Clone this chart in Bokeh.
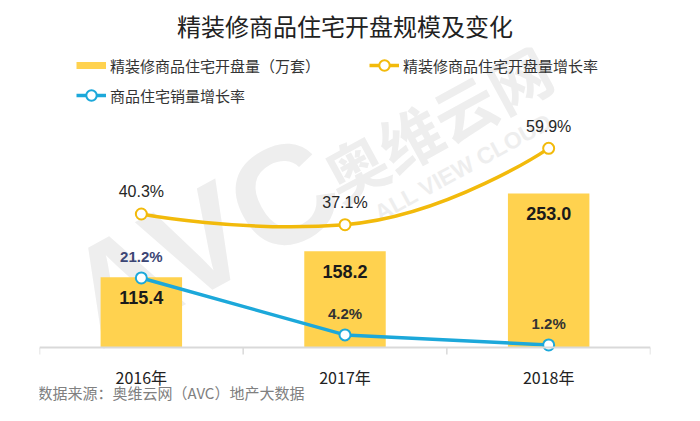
from bokeh.plotting import figure
from bokeh.models import ColumnDataSource, Range1d, Legend, LegendItem, Span, Label
from bokeh.core.properties import value
from bokeh.embed import file_html
from bokeh.resources import INLINE

# ---------------- data ----------------
categories = ["2016年", "2017年", "2018年"]
open_volume = [115.4, 158.2, 253.0]      # 精装修商品住宅开盘量（万套）
open_growth = [40.3, 37.1, 59.9]         # 精装修商品住宅开盘量增长率 (%)
sales_growth = [21.2, 4.2, 1.2]          # 商品住宅销量增长率 (%)

title_text = "精装修商品住宅开盘规模及变化"
legend_labels = ["精装修商品住宅开盘量（万套）", "精装修商品住宅开盘量增长率", "商品住宅销量增长率"]
source_text = "数据来源：奥维云网（AVC）地产大数据"

# ---------------- styles ----------------
BAR = "#FFD24F"
GOLD = "#F2BA0B"
BLUE = "#1CA8DA"
AXIS_GREY = "#D9D9D9"
WM = "#EEEEEE"
CJK = "Noto Sans CJK SC"
LAT = "Liberation Sans"
blue_label_colors = ["#3C4675", "#333333", "#333333"]

xs = list(range(len(categories)))
bounds = [i - 0.5 for i in range(len(categories) + 1)]
nan_y = [float("nan")] * len(xs)

src = ColumnDataSource(dict(
    x=xs,
    cat=categories,
    base=[0] * len(xs),
    vol=open_volume,
    vol_txt=[f"{v:.1f}" for v in open_volume],
    og=open_growth,
    og_txt=[f"{v:.1f}%" for v in open_growth],
    sg=sales_growth,
    sg_txt=[f"{v:.1f}%" for v in sales_growth],
    sg_col=blue_label_colors,
))

PX_PER_UNIT = 0.609          # screen px per 万套
Y0, Y1 = -95.2, 492.6
p = figure(width=684, height=405, output_backend="svg", toolbar_location=None,
           x_range=Range1d(-0.5, len(categories) - 0.5),
           y_range=Range1d(Y0, Y1),
           x_axis_location=None, y_axis_location=None,
           min_border_left=39, min_border_right=34,
           min_border_top=40, min_border_bottom=0)
p.extra_y_ranges = {"pct": Range1d(-16.87, 90.0)}
p.grid.visible = False
p.outline_line_color = None
p.background_fill_color = "white"
p.border_fill_color = "white"

# title
p.title.text = title_text
p.title.align = "center"
p.title.text_font = CJK
p.title.text_font_size = "24px"
p.title.text_font_style = "normal"
p.title.text_color = "#222222"

# watermark (faint, behind the data)
for txt, wx, wy, size, font in [("AVC", 0.30, 177, "140px", LAT),
                                ("奥维云网", 1.45, 371, "62px", CJK),
                                ("ALL VIEW CLOUD", 1.58, 296, "23px", LAT)]:
    p.add_layout(Label(x=wx, y=wy, text=txt, angle=0.5, text_align="center",
                       text_baseline="middle", text_font=font, text_font_size=size,
                       text_font_style="bold", text_color=WM, level="underlay"))

# category axis: baseline, separator ticks, category labels
p.add_layout(Span(location=0, dimension="width", line_color=AXIS_GREY, line_width=2))
p.segment(x0=bounds, y0=[0] * len(bounds), x1=bounds, y1=[-7 / PX_PER_UNIT] * len(bounds),
          line_color=AXIS_GREY, line_width=1.5)
p.text(x="x", y="base", text="cat", source=src, text_align="center", text_baseline="middle",
       y_offset=29, text_font=value(CJK), text_font_size="16px", text_color="#222222")

# bars
bars = p.vbar(x="x", top="vol", bottom=0, width=0.4, fill_color=BAR, line_color=None, source=src)
p.text(x="x", y="vol", text="vol_txt", source=src, text_align="center", text_baseline="middle",
       y_offset=20, text_font=value(LAT), text_font_style="bold", text_font_size="18px",
       text_color="#1a1a1a")

# smooth gold curve (bezier segments with control points computed from the data)
def smooth_segments(xv, yv, s=0.25, damp=0.5):
    n = len(xv)
    tx = [0.0] * n
    ty = [0.0] * n
    for i in range(1, n - 1):
        tx[i] = (xv[i + 1] - xv[i - 1]) * s
        ty[i] = (yv[i + 1] - yv[i - 1]) * s * damp
    return dict(
        x0=xv[:-1], y0=yv[:-1], x1=xv[1:], y1=yv[1:],
        cx0=[xv[i] + tx[i] for i in range(n - 1)],
        cy0=[yv[i] + ty[i] for i in range(n - 1)],
        cx1=[xv[i + 1] - tx[i + 1] for i in range(n - 1)],
        cy1=[yv[i + 1] - ty[i + 1] for i in range(n - 1)],
    )

seg = smooth_segments(xs, open_growth)
p.bezier(source=ColumnDataSource(seg), x0="x0", y0="y0", x1="x1", y1="y1",
         cx0="cx0", cy0="cy0", cx1="cx1", cy1="cy1",
         line_color=GOLD, line_width=3.5, y_range_name="pct")
gold_pts = p.scatter(x="x", y="og", source=src, marker="circle", size=11, fill_color="white",
                     line_color=GOLD, line_width=2, y_range_name="pct")
p.text(x="x", y="og", text="og_txt", source=src, y_range_name="pct", text_align="center",
       text_baseline="middle", y_offset=-22, text_font=value(LAT), text_font_size="16px",
       text_color="#262626")

# blue line
blue_line = p.line(x="x", y="sg", source=src, line_color=BLUE, line_width=3.5, y_range_name="pct")
blue_pts = p.scatter(x="x", y="sg", source=src, marker="circle", size=11, fill_color="white",
                     line_color=BLUE, line_width=2, y_range_name="pct")
p.text(x="x", y="sg", text="sg_txt", source=src, y_range_name="pct", text_align="center",
       text_baseline="middle", y_offset=-21, text_font=value(LAT), text_font_style="bold",
       text_font_size="15px", text_color="sg_col")

# legend proxies (no visible data)
bar_proxy = p.line(x=xs, y=nan_y, line_color=BAR, line_width=7)
gold_proxy = p.line(x=xs, y=nan_y, line_color=GOLD, line_width=3.5)

def make_legend(items, loc, spacing):
    lg = Legend(items=items, orientation="horizontal", location=loc,
                glyph_width=30, glyph_height=26, label_standoff=4, spacing=spacing,
                padding=0, margin=0, border_line_color=None, background_fill_alpha=0,
                label_text_font=CJK, label_text_font_size="15px", label_text_color="#333333")
    p.add_layout(lg)

make_legend([LegendItem(label=legend_labels[0], renderers=[bar_proxy]),
             LegendItem(label=legend_labels[1], renderers=[gold_proxy, gold_pts])], (37, 327), 49)
make_legend([LegendItem(label=legend_labels[2], renderers=[blue_line, blue_pts])], (37, 297), 0)

# footer (source note)
p.add_layout(Label(x=-0.5, y=0, text=source_text, x_offset=-2, y_offset=-45,
                   text_align="left", text_baseline="middle", text_font=CJK,
                   text_font_size="15px", text_color="#808080"))

open("out.html", "w").write(file_html(p, INLINE))
